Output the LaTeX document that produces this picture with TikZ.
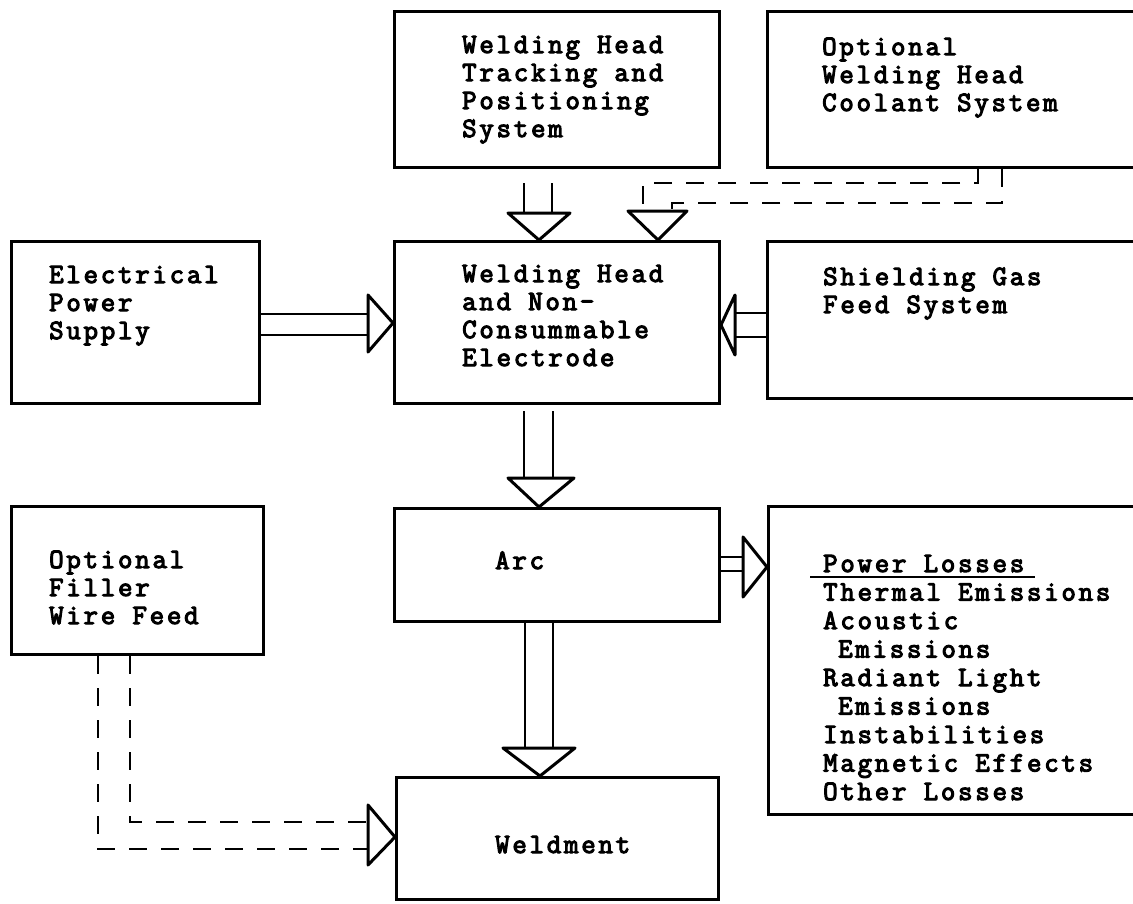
\documentclass[tikz,border=0pt]{standalone}
\usepackage{fontspec}
\newfontfamily\courfont{Latin Modern Mono}[LetterSpace=10, FakeBold=4]
\usetikzlibrary{calc}
\newcommand\tlines[2][28pt]{\vtop{\baselineskip=#1\lineskiplimit=-20pt\lineskip=0pt\halign{##\hfil\cr#2\crcr}}}
\begin{document}
\begin{tikzpicture}[x=1pt,y=-1pt,
  box/.style={draw, line width=3pt, rectangle, inner sep=0pt, anchor=north west},
  txt/.style={anchor=base west, inner sep=0pt, font=\courfont\fontsize{28}{28}\selectfont},
  pipe/.style={line width=2.5pt},
  dpipe/.style={line width=2.5pt, dash pattern=on 18pt off 14pt},
  tip/.style={line width=3pt, line join=round, fill=white}]
\useasboundingbox (0,0) rectangle (1133,903);
\clip (0,0) rectangle (1133,903);

% boxes
\node[box, minimum width=325pt, minimum height=156pt] (track) at (393,10) {};
\node[box, minimum width=400pt, minimum height=156pt] (cool) at (766,10) {};
\node[box, minimum width=248pt, minimum height=162pt] (elec) at (10,240) {};
\node[box, minimum width=325pt, minimum height=162pt] (head) at (393,240) {};
\node[box, minimum width=400pt, minimum height=157pt] (gas) at (766,240) {};
\node[box, minimum width=252pt, minimum height=148pt] (filler) at (10,505) {};
\node[box, minimum width=325pt, minimum height=113pt] (arc) at (393,507) {};
\node[box, minimum width=400pt, minimum height=308pt] (loss) at (767,505) {};
\node[box, minimum width=322pt, minimum height=122pt] (weld) at (395,776) {};

% texts
\node[txt] (ttrack) at (462,53) {\tlines{Welding Head\cr Tracking and\cr Positioning\cr System}};
\node[txt] (tcool) at (822,55) {\tlines{Optional\cr Welding Head\cr Coolant System}};
\node[txt] (telec) at (49,283) {\tlines{Electrical\cr Power\cr Supply}};
\node[txt] (thead) at (462,282) {\tlines{Welding Head\cr and Non-\cr Consummable\cr Electrode}};
\node[txt] (tgas) at (823,285) {\tlines{Shielding Gas\cr Feed System}};
\node[txt] (tfiller) at (49,568) {\tlines{Optional\cr Filler\cr Wire Feed}};
\node[txt] (tarc) at (495,569) {Arc};
\node[txt] (tweld) at (495,853) {Weldment};
\node[txt] (tloss) at (823,572) {\tlines[28.5pt]{Power Losses\cr Thermal Emissions\cr Acoustic\cr \hspace*{15pt}Emissions\cr Radiant Light\cr \hspace*{15pt}Emissions\cr Instabilities\cr Magnetic Effects\cr Other Losses}};
\draw[line width=2pt] ([xshift=-13pt,yshift=-5pt]tloss.base west) -- ++(225,0);

% tracking -> head
\draw[pipe] ($(524,0 |- track.south)+(0,14)$) -- (524,213);
\draw[pipe] ($(552,0 |- track.south)+(0,14)$) -- (552,213);
\draw[tip] (508,213) -- (570,213) -- (539,0 |- head.north) -- cycle;

% coolant -> head (dashed)
\draw[dpipe] (978,0 |- cool.south) -- (978,183) -- (643,183) -- (643,211);
\draw[dpipe] (1002,0 |- cool.south) -- (1002,203) -- (672,203) -- (672,211);
\draw[tip] (628,211) -- (687,211) -- (658,0 |- head.north) -- cycle;

% electrical -> head
\draw[pipe] (elec.east |- 0,314) -- (368,314);
\draw[pipe] (elec.east |- 0,335) -- (368,335);
\draw[tip] (368,295) -- (368,352) -- (head.west |- 0,323) -- cycle;

% gas -> head
\draw[pipe] (gas.west |- 0,313) -- (735,313);
\draw[pipe] (gas.west |- 0,337) -- (735,337);
\draw[tip] (735,295) -- (735,355) -- (head.east |- 0,325) -- cycle;

% head -> arc
\draw[pipe] ($(524,0 |- head.south)+(0,6)$) -- (524,478);
\draw[pipe] ($(553,0 |- head.south)+(0,6)$) -- (553,478);
\draw[tip] (508,478) -- (574,478) -- (539,0 |- arc.north) -- cycle;

% arc -> losses
\draw[pipe] (arc.east |- 0,557) -- (743,557);
\draw[pipe] (arc.east |- 0,571) -- (743,571);
\draw[tip] (743,537) -- (743,597) -- (loss.west |- 0,567) -- cycle;

% arc -> weldment
\draw[pipe] (525,0 |- arc.south) -- (525,748);
\draw[pipe] (553,0 |- arc.south) -- (553,748);
\draw[tip] (503,748) -- (575,748) -- (540,0 |- weld.north) -- cycle;

% filler -> weldment (dashed)
\draw[dpipe] (98,0 |- filler.south) -- (98,849) -- (368,849);
\draw[dpipe] (130,0 |- filler.south) -- (130,822) -- (368,822);
\draw[tip] (368,805) -- (368,865) -- (weld.west |- 0,837) -- cycle;
\end{tikzpicture}
\end{document}
